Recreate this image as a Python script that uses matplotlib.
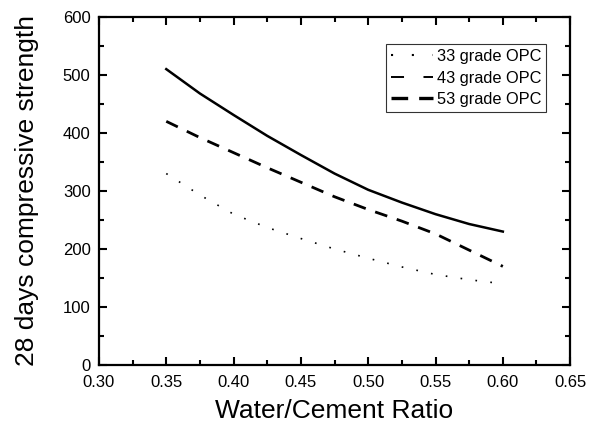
import numpy as np
import matplotlib.pyplot as plt
from matplotlib.lines import Line2D
from matplotlib.ticker import MultipleLocator

plt.rcParams['font.family'] = ['Liberation Sans', 'DejaVu Sans']

wc = [0.35, 0.375, 0.40, 0.425, 0.45, 0.475, 0.50, 0.525, 0.55, 0.575, 0.60]
opc33 = [330, 293, 260, 237, 218, 200, 184, 169, 156, 147, 140]
opc43 = [420, 392, 366, 340, 315, 290, 268, 248, 226, 198, 170]
opc53 = [510, 468, 431, 395, 362, 330, 302, 280, 260, 243, 230]
labels = ['33 grade OPC', '43 grade OPC', '53 grade OPC']

fig = plt.figure(figsize=(5.89, 4.34), dpi=100)
ax = fig.add_axes([0.168, 0.159, 0.800, 0.802])

ax.plot(wc, opc33, color='black', lw=1.2, linestyle=(0, (1, 8)))
ax.plot(wc, opc43, color='black', lw=2.0, linestyle=(0, (4.6, 3.6)))
ax.plot(wc, opc53, color='black', lw=1.8, linestyle='-')

ax.set_xlim(0.30, 0.65)
ax.set_ylim(0, 600)
ax.xaxis.set_major_locator(MultipleLocator(0.05))
ax.xaxis.set_minor_locator(MultipleLocator(0.025))
ax.yaxis.set_major_locator(MultipleLocator(100))
ax.yaxis.set_minor_locator(MultipleLocator(50))
ax.xaxis.set_major_formatter(plt.FormatStrFormatter('%.2f'))
ax.tick_params(which='both', direction='in', top=True, right=True, width=1.5, labelsize=12)
ax.tick_params(axis='x', which='major', pad=7)
ax.tick_params(axis='y', which='major', pad=6)
ax.tick_params(which='major', length=6)
ax.tick_params(which='minor', length=3.5)
for s in ax.spines.values():
    s.set_linewidth(1.6)

ax.set_xlabel('Water/Cement Ratio', fontsize=19, labelpad=7)
ax.set_ylabel('28 days compressive strength', fontsize=19, labelpad=17)

handles = [
    Line2D([], [], color='black', lw=1.5, linestyle=(0, (1, 9))),
    Line2D([], [], color='black', lw=1.4, linestyle=(0, (6.7, 10))),
    Line2D([], [], color='black', lw=2.4, linestyle=(0, (5, 3.3))),
]
leg = ax.legend(handles, labels, loc='upper right', bbox_to_anchor=(0.949, 0.922),
                fontsize=11.8, frameon=True, fancybox=False, edgecolor='black',
                handlelength=2.6, handletextpad=0.2, borderpad=0.3, labelspacing=0.4,
                borderaxespad=0)
leg.get_frame().set_linewidth(0.8)

plt.savefig('out.png', dpi=100)
